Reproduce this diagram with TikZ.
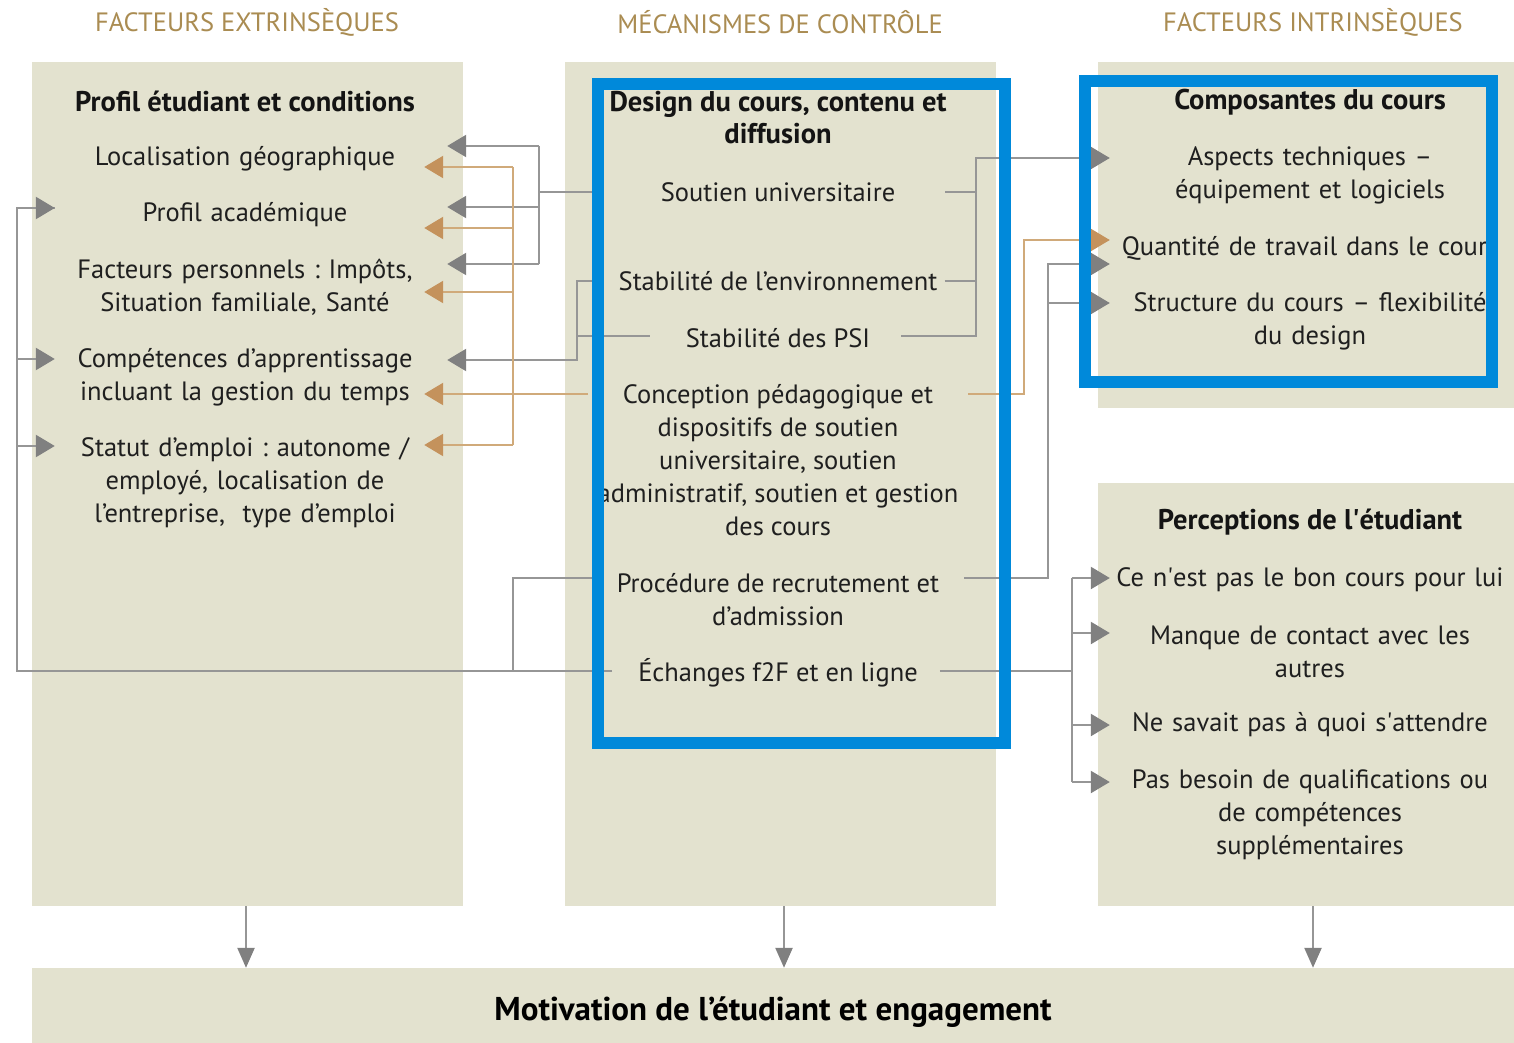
\documentclass[tikz,border=0pt]{standalone}
\usepackage{fontspec}
\setmainfont{PT Sans}
\usetikzlibrary{arrows.meta,calc}

\definecolor{panel}{RGB}{227,226,207}
\definecolor{headgold}{RGB}{170,140,82}
\definecolor{boxblue}{RGB}{0,137,218}
\definecolor{linegray}{RGB}{150,150,150}
\definecolor{tipgray}{RGB}{128,128,128}
\definecolor{tanline}{RGB}{208,170,122}
\definecolor{tantip}{RGB}{196,146,92}

\tikzset{
  panelbg/.style={fill=panel,draw=none,inner sep=0pt},
  item/.style={font=\frenchspacing\fontsize{26.5}{33}\selectfont,align=center,inner sep=0pt,text=black!88},
  itemL/.style={item,text width=404pt},
  itemR/.style={item,text width=400pt},
  title/.style={font=\bfseries\fontsize{28.5}{32}\selectfont,align=center,inner sep=0pt,text=black!92},
  head/.style={font=\fontsize{26.5}{28}\selectfont,text=headgold,inner sep=0pt},
  gline/.style={draw=linegray,line width=2.4pt},
  garrow/.style={gline,-{Triangle[length=19pt,width=22pt,color=tipgray]}},
  garrowb/.style={gline,-{Triangle[length=20pt,width=17pt,color=tipgray]}},
  tline/.style={draw=tanline,line width=2.4pt},
  tarrow/.style={tline,-{Triangle[length=19pt,width=22pt,color=tantip]}},
  bluebox/.style={draw=boxblue,line width=12pt}
}

\begin{document}
\begin{tikzpicture}[x=1pt,y=-1pt]
\useasboundingbox (0,0) rectangle (1514,1043);

% column headers
\node[head] (hext) at (247,22) {FACTEURS EXTRINSÈQUES};
\node[head] (hmec) at (780,22) {MÉCANISMES DE CONTRÔLE};
\node[head] (hint) at (1313,22) {FACTEURS INTRINSÈQUES};

% panels
\node[panelbg,minimum width=431pt,minimum height=844pt] (pext) at (247.5,484) {};
\node[panelbg,minimum width=431pt,minimum height=844pt] (pmec) at (780.5,484) {};
\node[panelbg,minimum width=416pt,minimum height=346pt] (pcomp) at (1306,235) {};
\node[panelbg,minimum width=416pt,minimum height=423pt] (pperc) at (1306,694.5) {};
\node[panelbg,minimum width=1482pt,minimum height=75pt,text height=36pt,text depth=7pt,
  font=\bfseries\fontsize{33}{36}\selectfont] (motiv) at (773,1005.5)
  {Motivation de l’étudiant et engagement};

% extrinsic factors
\node[title] (prof) at (245,101) {Profil étudiant et conditions};
\node[itemL] (loc) at (245,159) {Localisation géographique};
\node[itemL] (acad) at (245,215) {Profil académique};
\node[itemL] (pers) at (245,287) {Facteurs personnels : Impôts,\\Situation familiale, Santé};
\node[itemL] (compt) at (245,377) {Compétences d’apprentissage\\incluant la gestion du temps};
\node[itemL] (stat) at (245,483) {Statut d’emploi : autonome /\\employé, localisation de\\l’entreprise,~ type d’emploi};

% control mechanisms
\node[title] (design) at (778,118) {Design du cours, contenu et\\diffusion};
\node[item] (sout) at (778,192) {Soutien universitaire};
\node[item] (envi) at (778,281) {Stabilité de l’environnement};
\node[item] (psi) at (778,338) {Stabilité des PSI};
\node[item] (conc) at (778,460) {Conception pédagogique et\\dispositifs de soutien\\universitaire, soutien\\administratif, soutien et gestion\\des cours};
\node[item] (proc) at (778,600) {Procédure de recrutement et\\d’admission};
\node[item] (echg) at (778,673) {Échanges f2F et en ligne};

% intrinsic factors
\node[title] (compo) at (1310,102) {Composantes du cours};
\node[itemR] (tech) at (1310,175) {Aspects techniques –\\équipement et logiciels};
\node[itemR] (quant) at (1310,248) {Quantité de travail dans le cours};
\node[itemR] (struc) at (1310,321) {Structure du cours – flexibilité\\du design};
\node[title] (perc) at (1310,522) {Perceptions de l\textquotesingle étudiant};
\node[itemR] (pbon) at (1310,580) {Ce n\textquotesingle est pas le bon cours pour lui};
\node[itemR] (pcont) at (1310,652) {Manque de contact avec les\\autres};
\node[itemR] (patt) at (1310,725) {Ne savait pas à quoi s\textquotesingle attendre};
\node[itemR] (pqual) at (1310,815) {Pas besoin de qualifications ou\\de compétences\\supplémentaires};

% buses
\coordinate (blueL) at (600,0);
\coordinate (gbus) at (539,0);
\coordinate (gbus2) at (577,0);
\coordinate (pbusL) at (513,0);
\coordinate (rbus) at (976,0);
\coordinate (lbus) at (17,0);
\coordinate (ebus) at (1072,0);

% soutien -> left
\draw[gline] (sout.west -| blueL) -- (sout.west -| gbus);
\foreach \n/\dy in {loc/-13,acad/-8,pers/-23}
  \draw[garrow] ($(\n.east)+(92,\dy)$) -- ($(\n.east)+(0,\dy)$);
\draw[gline] ($(loc.east)+(92,-13)$) -- ($(pers.east)+(92,-23)$);

% stabilite -> competences
\draw[garrow] (envi.west -| blueL) -- (envi.west -| gbus2) |- ($(compt.east)+(0,-17)$);
\draw[gline] ($(psi.west)+(-36,-2)$) -- ($(psi.west -| gbus2)+(0,-2)$);

% conception -> left (tan)
\coordinate (concL) at (588,394);
\draw[tline] ($(loc.east)+(66,8)$) -- ($(stat.east)+(66,-38)$);
\foreach \n/\dy in {loc/8,acad/13,pers/5,stat/-38}
  \draw[tarrow] ($(\n.east)+(66,\dy)$) -- ($(\n.east)+(-23,\dy)$);
\draw[tarrow] (concL) -- ($(compt.east)+(-23,17)$);

% echanges + procedure -> left loop
\draw[gline] ($(echg.west)+(-26,-2)$) -- ($(echg.west -| lbus)+(0,-2)$) |- ($(acad.west)+(12,-7)$);
\draw[garrow] ($(acad.west)+(-26,-7)$) -- ($(acad.west)+(12,-7)$);
\draw[garrow] ($(compt.west)+(-26,-18)$) -- ($(compt.west)+(12,-18)$);
\draw[garrow] ($(stat.west)+(-26,-37)$) -- ($(stat.west)+(12,-37)$);
\draw[gline] ($(proc.west)+(-24,-22)$) -| ($(echg.west -| pbusL)+(0,-2)$);

% stabilite + soutien -> aspects techniques
\coordinate (techin) at ($(tech.west)+(0,-17)$);
\draw[garrow] ($(psi.east)+(31,-2)$) -| (rbus |- techin) -- (techin);
\draw[gline] ($(sout.east)+(50,0)$) -- (sout.east -| rbus);
\draw[gline] ($(envi.east)+(7,0)$) -- (envi.east -| rbus);

% conception -> quantite (tan)
\coordinate (concR) at (968,394);
\coordinate (quantin) at ($(quant.west)+(0,-8)$);
\draw[tarrow] (concR) -| ($(quantin)+(-86,0)$) -- (quantin);

% procedure -> quantite, structure
\draw[garrow] ($(proc.east)+(25,-22)$) -| ($(quant.west)+(-62,16)$) -- ($(quant.west)+(0,16)$);
\draw[garrow] ($(struc.west)+(-62,-18)$) -- ($(struc.west)+(0,-18)$);

% echanges -> perceptions
\draw[gline] ($(echg.east)+(22,-2)$) -- ($(echg.east -| ebus)+(0,-2)$);
\draw[gline] ($(pbon.west)+(-38,-2)$) -- ($(pqual.west)+(-38,-33)$);
\foreach \n/\dy in {pbon/-2,pcont/-19,patt/0,pqual/-33}
  \draw[garrow] ($(\n.west)+(-38,\dy)$) -- ($(\n.west)+(0,\dy)$);

% panels -> motivation
\draw[garrowb] ($(pext.south)+(-1.5,0)$) -- ($(pext.south |- motiv.north)+(-1.5,0)$);
\draw[garrowb] ($(pmec.south)+(3.5,0)$) -- ($(pmec.south |- motiv.north)+(3.5,0)$);
\draw[garrowb] ($(pperc.south)+(7,0)$) -- ($(pperc.south |- motiv.north)+(7,0)$);

% highlight frames
\draw[bluebox] (598,84) rectangle (1005,743);
\draw[bluebox] (1084.5,81) rectangle (1492,382);
\end{tikzpicture}
\end{document}
